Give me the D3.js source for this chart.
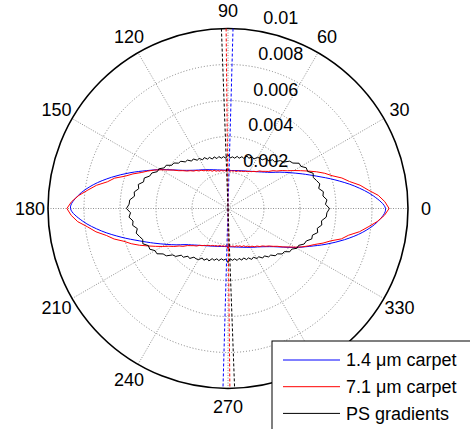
<!DOCTYPE html>
<html>
<head>
<meta charset="utf-8">
<script src="https://d3js.org/d3.v7.min.js"></script>
<style>
  html, body { margin: 0; padding: 0; background: #fff; }
  svg { font-family: Arial, 'Liberation Sans', sans-serif; }
</style>
</head>
<body>
<div id="chart"></div>
<script>
// radii in units of 1e-3, half a turn only (orientation data repeats every 180 deg)
var coarseAngles = d3.range(0, 180, 5);     // blue, smooth
var fineAngles = d3.range(0, 180, 2.5);     // red, black

var carpet14 = [8.75, 8.10, 7.15, 6.15, 5.25, 4.55, 3.98, 3.52, 3.12, 2.86, 2.66, 2.51,
  2.39, 2.30, 2.23, 2.18, 2.14, 2.12, 2.13, 2.14, 2.17, 2.22, 2.29, 2.38,
  2.49, 2.62, 2.78, 3.00, 3.30, 3.74, 4.33, 4.98, 5.80, 6.70, 7.60, 8.35];

var carpet71 = [8.95, 8.72, 8.38, 7.86, 7.45, 6.92, 6.55, 6.06, 5.72, 5.33, 4.92, 4.55,
  4.22, 3.90, 3.68, 3.42, 3.27, 3.05, 2.92, 2.80, 2.72, 2.58, 2.52, 2.43,
  2.38, 2.31, 2.29, 2.22, 2.21, 2.16, 2.17, 2.10, 2.13, 2.09, 2.11, 2.06,
  2.22, 2.07, 2.12, 2.10, 2.16, 2.12, 2.18, 2.17, 2.26, 2.24, 2.33, 2.36,
  2.46, 2.48, 2.60, 2.63, 2.76, 2.82, 2.97, 3.08, 3.27, 3.45, 3.72, 3.98,
  4.30, 4.62, 4.92, 5.22, 5.62, 5.98, 6.52, 6.86, 7.42, 7.85, 8.32, 8.70];

var psGradients = [5.64, 5.42, 5.52, 5.32, 5.38, 5.16, 5.28, 5.16, 5.04, 5.12, 4.88, 4.90,
  4.68, 4.68, 4.40, 4.32, 4.01, 3.94, 3.67, 3.67, 3.46, 3.50, 3.30, 3.31,
  3.28, 3.10, 3.17, 3.02, 3.10, 2.92, 2.98, 2.86, 2.94, 2.82, 2.88, 2.81,
  3.00, 2.80, 2.89, 2.82, 2.93, 2.84, 2.97, 2.88, 3.02, 2.97, 3.12, 3.05,
  3.21, 3.18, 3.36, 3.32, 3.51, 3.51, 3.71, 3.73, 3.93, 3.94, 4.19, 4.20,
  4.42, 4.43, 4.67, 4.71, 4.95, 4.92, 5.16, 5.08, 5.29, 5.24, 5.48, 5.50];

// mean orientation of each series, degrees
var meanAngles = [88.4, 90.6, 92.1];

var seriesNames = ['1.4 \u03bcm carpet', '7.1 \u03bcm carpet', 'PS gradients'];
var seriesColors = ['#0000ff', '#ff0000', '#000000'];

var radialTicks = [2, 4, 6, 8, 10];
var radialLabels = ['0.002', '0.004', '0.006', '0.008', '0.01'];
var angleTicks = [0, 30, 60, 90, 120, 150, 180, 210, 240, 270, 300, 330];

var width = 470, height = 429;
var cx = 228, cy = 208.5, R = 180;

var svg = d3.select('#chart').append('svg')
    .attr('width', width)
    .attr('height', height);

var g = svg.append('g').attr('transform', 'translate(' + cx + ',' + cy + ')');

var r = d3.scaleLinear().domain([0, 10]).range([0, R]);
var rad = function(deg) { return deg * Math.PI / 180; };

// grid circles
g.selectAll('.ring')
    .data(radialTicks.slice(0, -1))
    .enter().append('circle')
    .attr('r', function(d) { return r(d); })
    .attr('fill', 'none')
    .attr('stroke', '#808080')
    .attr('stroke-width', 1)
    .attr('stroke-dasharray', '1,2');

// spokes every 30 deg, through the centre
g.selectAll('.spoke')
    .data(angleTicks.slice(0, 6))
    .enter().append('line')
    .attr('x1', function(d) { return -R * Math.cos(rad(d)); })
    .attr('y1', function(d) { return R * Math.sin(rad(d)); })
    .attr('x2', function(d) { return R * Math.cos(rad(d)); })
    .attr('y2', function(d) { return -R * Math.sin(rad(d)); })
    .attr('stroke', '#909090')
    .attr('stroke-width', 1)
    .attr('stroke-dasharray', '1,1.5');

// outer circle
g.append('circle')
    .attr('r', r(10))
    .attr('fill', 'none')
    .attr('stroke', '#000')
    .attr('stroke-width', 1.6);

// angle labels
g.selectAll('.alabel')
    .data(angleTicks)
    .enter().append('text')
    .attr('x', function(d) { return 1.1 * R * Math.cos(rad(d)); })
    .attr('y', function(d) { return -1.1 * R * Math.sin(rad(d)); })
    .attr('text-anchor', 'middle')
    .attr('dy', '0.35em')
    .attr('font-size', 18)
    .text(function(d) { return d; });

// radial labels along 82 deg
g.selectAll('.rlabel')
    .data(radialTicks)
    .enter().append('text')
    .attr('x', function(d) { return r(d + 0.1) * Math.cos(rad(82)) + 10; })
    .attr('y', function(d) { return -r(d + 0.1) * Math.sin(rad(82)) - 4; })
    .attr('font-size', 18)
    .text(function(d, i) { return radialLabels[i]; });

// curves
var radial = function(curve) {
  return d3.lineRadial()
      .angle(function(d) { return rad(90 - d[0]); })
      .radius(function(d) { return r(d[1]); })
      .curve(curve);
};

function fullTurn(angles, vals) {
  var pts = angles.map(function(a, i) { return [a, vals[i]]; });
  return pts.concat(angles.map(function(a, i) { return [a + 180, vals[i]]; }));
}

var curves = [
  { pts: fullTurn(coarseAngles, carpet14), curve: d3.curveCardinalClosed },
  { pts: fullTurn(fineAngles, carpet71), curve: d3.curveLinearClosed },
  { pts: fullTurn(fineAngles, psGradients), curve: d3.curveLinearClosed }
];

g.selectAll('.series')
    .data(curves)
    .enter().append('path')
    .attr('d', function(d) { return radial(d.curve)(d.pts); })
    .attr('fill', 'none')
    .attr('stroke', function(d, i) { return seriesColors[i]; })
    .attr('stroke-width', 1);

// mean direction lines (dashed diameters)
g.selectAll('.mean')
    .data(meanAngles)
    .enter().append('line')
    .attr('x1', function(d) { return r(10) * Math.cos(rad(d)); })
    .attr('y1', function(d) { return -r(10) * Math.sin(rad(d)); })
    .attr('x2', function(d) { return -r(10) * Math.cos(rad(d)); })
    .attr('y2', function(d) { return r(10) * Math.sin(rad(d)); })
    .attr('stroke', function(d, i) { return seriesColors[i]; })
    .attr('stroke-width', 1)
    .attr('stroke-dasharray', '3,2');

// legend
var leg = svg.append('g').attr('transform', 'translate(272,341)');
leg.append('rect')
    .attr('x', 0).attr('y', 0)
    .attr('width', 215).attr('height', 100)
    .attr('fill', '#fff')
    .attr('stroke', '#000')
    .attr('stroke-width', 1);

var item = leg.selectAll('.item')
    .data(seriesNames)
    .enter().append('g')
    .attr('transform', function(d, i) { return 'translate(0,' + (19 + i * 26.7) + ')'; });

item.append('line')
    .attr('x1', 11).attr('x2', 68)
    .attr('stroke', function(d, i) { return seriesColors[i]; })
    .attr('stroke-width', 1);

item.append('text')
    .attr('x', 74)
    .attr('dy', '0.35em')
    .attr('font-size', 18)
    .text(function(d) { return d; });
</script>
</body>
</html>
